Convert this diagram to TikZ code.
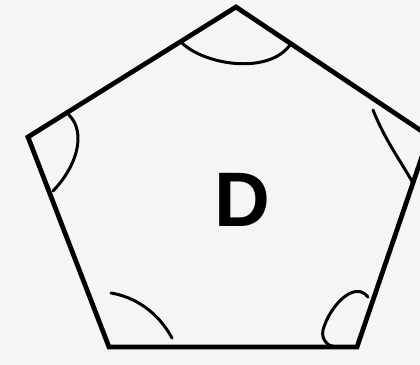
\documentclass[tikz,border=0pt]{standalone}
\usepackage{fontspec}
\setmainfont{Liberation Sans}
\usepackage{tikz}

\begin{document}
\begin{tikzpicture}[
    x=0.02cm, y=-0.02cm,
    side/.style    = {line width=2.7pt, line join=miter},
    angmark/.style = {line width=1.7pt, line cap=round},
    letter/.style  = {font=\fontsize{44}{44}\selectfont\bfseries, inner sep=0pt}
]
\useasboundingbox[fill=black!4] (0,0) rectangle (420,365);
\clip (0,0) rectangle (420,365);

%% Vertices
\coordinate (top) at (236,7);
\coordinate (rgt) at (429,136);
\coordinate (br)  at (357,347);
\coordinate (bl)  at (109,347);
\coordinate (lft) at (28,137);

%% Pentagon
\draw[side] (top) -- (rgt) -- (br) -- (bl) -- (lft) -- cycle;

%% Angle marks
\draw[angmark] (182,43) .. controls (205,65) and (268,75) .. (290,45);
\draw[angmark] (69,115) .. controls (86,132) and (78,165) .. (53,191);
\draw[angmark] (373,110) .. controls (385,140) and (400,160) .. (413,183);
\draw[angmark] (111,293) .. controls (135,297) and (158,312) .. (172,338);
\draw[angmark] (368,297) .. controls (355,280) and (330,305) .. (323,330)
               .. controls (321,340) and (328,346) .. (335,347);

%% Label
\node[letter] (lbl) at (242,200) {D};

\end{tikzpicture}
\end{document}
